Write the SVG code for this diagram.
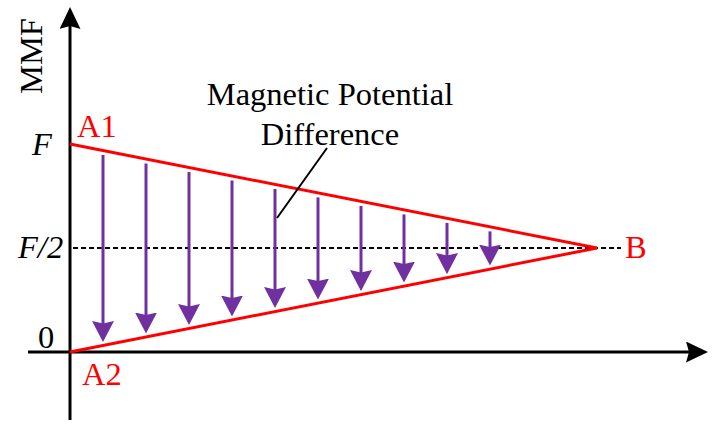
<svg xmlns="http://www.w3.org/2000/svg" width="715" height="424" viewBox="0 0 715 424">
<style>
text{font-family:"Liberation Serif","Times New Roman",serif;font-size:32.5px}
.red{fill:#FF0000}
.blk{fill:#000}
.it{font-style:italic}
.axis{stroke:#000;stroke-width:3;fill:none}
.edge{stroke:#FF0000;stroke-width:3;fill:none}
.arr{stroke:#7030A0;stroke-width:3;fill:none;marker-end:url(#ph)}
.dot{stroke:#000;stroke-width:2.2;stroke-dasharray:5 3;fill:none}
</style>
<defs>
<marker id="ph" viewBox="0 0 21 22" markerWidth="21" markerHeight="22" refX="11" refY="11" orient="auto" markerUnits="userSpaceOnUse">
<path d="M0,0 L21,11 L0,22 L2.5,11 Z" fill="#7030A0"/>
</marker>
<marker id="ah" viewBox="0 0 22 21" markerWidth="22" markerHeight="21" refX="12" refY="10.5" orient="auto" markerUnits="userSpaceOnUse">
<path d="M0,0 L22,10.5 L0,21 L3,10.5 Z" fill="#000"/>
</marker>
</defs>
<g id="axes">
<line class="axis" x1="70" y1="420" x2="70" y2="17" marker-end="url(#ah)"/>
<line class="axis" x1="28" y1="352" x2="698" y2="352" marker-end="url(#ah)"/>
</g>
<g id="axis-labels">
<text class="blk" transform="translate(42,94) rotate(-90)">MMF</text>
<text class="blk it" x="32" y="155">F</text>
<text class="blk it" x="18" y="258">F/2</text>
<text class="blk" x="38" y="348">0</text>
</g>
<g id="halfline">
<line class="dot" x1="73" y1="248" x2="621" y2="248"/>
</g>
<g id="triangle">
<polyline class="edge" points="70,144 597,248 70,352"/>
</g>
<g id="point-labels">
<text class="red" x="77" y="137">A1</text>
<text class="red" x="82" y="385">A2</text>
<text class="red" x="625" y="258">B</text>
</g>
<g id="connectors">
<line class="arr" x1="103" y1="155" x2="103" y2="332"/>
<line class="arr" x1="146" y1="163.5" x2="146" y2="323.5"/>
<line class="arr" x1="189" y1="172" x2="189" y2="315"/>
<line class="arr" x1="232" y1="180.5" x2="232" y2="306.5"/>
<line class="arr" x1="275" y1="189" x2="275" y2="298"/>
<line class="arr" x1="318" y1="197.4" x2="318" y2="289.6"/>
<line class="arr" x1="361" y1="205.9" x2="361" y2="281.1"/>
<line class="arr" x1="404" y1="214.4" x2="404" y2="272.6"/>
<line class="arr" x1="447" y1="222.9" x2="447" y2="264.1"/>
<line class="arr" x1="490" y1="231.4" x2="490" y2="255.6"/>
<line x1="277" y1="218" x2="327" y2="148" stroke="#000" stroke-width="2"/>
</g>
<g id="annotation">
<text class="blk" x="330" y="105" text-anchor="middle">Magnetic Potential</text>
<text class="blk" x="330" y="145" text-anchor="middle">Difference</text>
</g>
</svg>
